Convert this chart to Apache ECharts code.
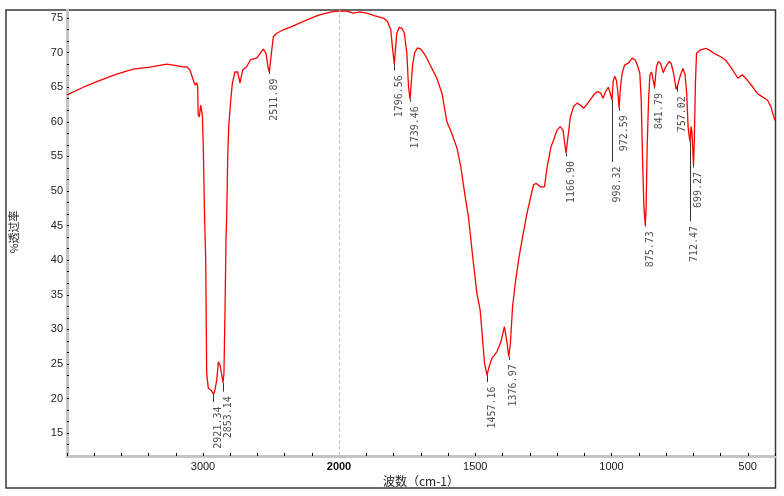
<!DOCTYPE html>
<html><head><meta charset="utf-8">
<script src="https://cdn.jsdelivr.net/npm/echarts@6/dist/echarts.min.js"></script>
<style>html,body{margin:0;padding:0;background:#fff}#c{width:784px;height:496px}</style>
</head><body><div id="c"></div>
<script>
// Spectrum (wavenumber cm-1, % transmittance)
const wavenumbers = [4000,3880,3757,3635,3512,3390,3267,3218,3145,3120,3096,3076,3059,3046,3039,3035,3027,3017,3005,2998,2988,2980,2973,2961,2943,2921,2912,2899,2887,2875,2862,2853,2846,2838,2831,2826,2818,2811,2796,2784,2765,2745,2728,2708,2679,2650,2605,2593,2557,2537,2520,2512,2500,2483,2458,2409,2348,2287,2226,2164,2115,2054,2000,1972,1947,1923,1898,1868,1837,1822,1810,1803,1797,1793,1788,1779,1769,1760,1751,1745,1739,1736,1730,1723,1712,1700,1684,1659,1641,1622,1604,1586,1567,1553,1537,1525,1508,1494,1482,1473,1466,1457,1449,1439,1420,1406,1393,1389,1383,1377,1371,1363,1353,1341,1328,1310,1298,1286,1276,1261,1246,1236,1222,1212,1200,1188,1178,1170,1167,1161,1151,1139,1126,1114,1102,1083,1065,1053,1040,1031,1022,1012,1006,998,994,988,982,977,972,967,961,952,936,924,912,903,896,891,886,881,876,873,869,864,859,853,847,842,835,828,820,810,801,789,781,771,763,757,749,738,730,724,719,716,712,708,705,701,699,696,692,688,673,654,642,624,599,581,563,544,536,520,501,483,465,446,428,415,403,400];
const transmittance = [63.9,65.0,66.0,66.9,67.6,67.9,68.35,68.2,67.95,67.95,67.5,66.3,65.3,65.65,65.0,61.0,60.7,62.4,61.0,56.6,45.8,40.0,23.65,21.5,21.25,20.6,21.25,22.7,25.3,24.85,23.4,22.3,23.65,32.8,42.9,46.3,55.0,59.3,63.15,65.6,67.2,67.2,65.6,67.5,67.95,69.0,69.2,69.4,70.5,69.9,67.7,67.2,69.4,72.3,72.8,73.3,73.75,74.3,74.8,75.3,75.6,75.9,76.0,76.0,75.7,75.9,75.7,75.3,75.0,74.5,73.3,70.4,68.35,70.4,72.8,73.65,73.5,72.8,69.9,65.1,63.25,65.1,68.2,69.9,70.7,70.5,69.65,67.7,66.3,64.1,60.0,58.3,56.2,53.5,49.2,46.3,40.0,35.2,32.8,28.5,25.1,23.4,24.6,25.8,26.8,28.2,30.4,30.6,28.0,26.05,28.0,33.3,36.7,40.0,43.0,46.8,48.9,50.9,51.1,50.6,50.6,53.5,56.4,57.4,58.8,59.3,58.8,56.4,55.45,57.4,60.7,62.2,62.7,62.4,61.95,62.9,63.9,64.35,64.2,63.4,64.35,65.0,64.35,63.15,65.8,66.6,66.0,64.35,61.95,65.1,67.0,68.2,68.55,69.2,68.9,67.95,67.0,63.15,54.5,47.7,45.0,47.7,56.4,63.15,66.8,67.2,66.0,65.0,68.0,68.7,68.45,67.1,67.95,68.7,68.45,66.8,64.7,65.3,66.5,67.7,66.8,64.1,59.3,58.3,57.1,59.3,58.6,55.45,53.75,57.4,65.6,69.9,70.4,70.6,70.4,69.9,69.4,68.9,67.95,66.8,66.3,66.8,66.0,65.1,64.1,63.6,63.15,62.2,60.5,60.2];

// Peak annotations
const peakWavenumbers = [2921.34,2853.14,2511.89,1796.56,1739.46,1457.16,1376.97,1166.90,998.32,972.59,875.73,841.79,757.02,712.47,699.27];
const peakLabels = ['2921.34','2853.14','2511.89','1796.56','1739.46','1457.16','1376.97','1166.90','998.32','972.59','875.73','841.79','757.02','712.47','699.27'];
const peakValues = [20.6,22.3,67.2,68.35,63.25,23.4,26.05,55.45,63.15,61.95,45.0,65.0,65.3,57.1,53.75];
const peakLineEnds = [19.5,21.0,66.9,67.4,62.9,22.4,25.6,55.0,54.2,61.6,44.85,64.8,64.35,45.6,53.4];

// Axis ticks / labels
const yTickLabels = [15,20,25,30,35,40,45,50,55,60,65,70,75];
const xTickLabelsLeft = [3000];
const xTickLabelsRight = [2000,1500,1000,500];
const breakWavenumber = 2000;

const Y_MIN = 11.7, Y_MAX = 76.16;
const yMinor = [];
yTickLabels.forEach(v => { yMinor.push(v); yMinor.push(v - 5/3); yMinor.push(v - 10/3); });

const pts = wavenumbers.map((w, i) => [w, transmittance[i]]);
const leftPts = pts.filter(p => p[0] >= breakWavenumber);
const rightPts = pts.filter(p => p[0] <= breakWavenumber);

const peaks = peakWavenumbers.map((w, i) => ({w, label: peakLabels[i], v: peakValues[i], e: peakLineEnds[i]}));
const leftPeaks = peaks.filter(p => p.w > breakWavenumber);
const rightPeaks = peaks.filter(p => p.w <= breakWavenumber);

const labelFont = 'Liberation Sans';
const axisColor = '#c4c4c4';

function tickLines(list) {
  return list.map(p => [{coord: [p.w, p.v]}, {coord: [p.w, p.e]}]);
}
function peakLabelSeries(list, idx) {
  return {
    type: 'scatter', xAxisIndex: idx, yAxisIndex: idx, symbolSize: 1, silent: true,
    itemStyle: {color: 'transparent'},
    data: list.map(p => [p.w, p.e, p.label]),
    label: {
      show: true, formatter: q => q.data[2], position: 'bottom', distance: 4,
      rotate: 90, align: 'right', verticalAlign: 'top',
      fontFamily: 'DejaVu Sans Mono', fontSize: 10, color: '#222'
    },
    z: 5
  };
}

const yAxisBase = {
  type: 'value', min: Y_MIN, max: Y_MAX, splitLine: {show: false}
};

const option = {
  animation: false,
  backgroundColor: '#fff',
  grid: [
    {left: 67, top: 10, width: 272, height: 446},
    {left: 339, top: 10, width: 436, height: 446}
  ],
  xAxis: [
    {
      gridIndex: 0, type: 'value', inverse: true, min: 2000, max: 4000, interval: 200,
      splitLine: {show: false},
      axisLine: {lineStyle: {color: axisColor, width: 3}},
      axisTick: {inside: true, length: 3, lineStyle: {color: '#000', width: 1}},
      axisLabel: {interval: 0, margin: 5, color: '#222', fontFamily: labelFont, fontSize: 11,
        formatter: v => xTickLabelsLeft.includes(v) ? String(v) : ''}
    },
    {
      gridIndex: 1, type: 'value', inverse: true, min: 400, max: 2000, interval: 100,
      splitLine: {show: false},
      axisLine: {lineStyle: {color: axisColor, width: 3}},
      axisTick: {inside: true, length: 3, lineStyle: {color: '#000', width: 1}},
      axisLabel: {interval: 0, margin: 5, color: '#222', fontFamily: labelFont, fontSize: 11,
        formatter: v => xTickLabelsRight.includes(v) ? (v === breakWavenumber ? '{b|' + v + '}' : String(v)) : '',
        rich: {b: {fontWeight: 'bold', fontFamily: labelFont, fontSize: 11, color: '#111'}}}
    }
  ],
  yAxis: [
    Object.assign({}, yAxisBase, {
      gridIndex: 0,
      axisLine: {show: true, lineStyle: {color: axisColor, width: 3}},
      axisTick: {show: true, inside: true, length: 2, customValues: yMinor, lineStyle: {color: '#000', width: 1}},
      axisLabel: {show: true, customValues: yTickLabels, margin: 4, color: '#222', fontFamily: labelFont, fontSize: 11}
    }),
    Object.assign({}, yAxisBase, {gridIndex: 1, show: false})
  ],
  series: [
    {
      type: 'line', xAxisIndex: 0, yAxisIndex: 0, data: leftPts, showSymbol: false, symbol: 'none',
      lineStyle: {color: '#ff0000', width: 1.3}, silent: true, z: 3,
      markLine: {silent: true, symbol: ['none', 'none'], label: {show: false},
        lineStyle: {color: '#333', width: 1, type: 'solid'}, data: tickLines(leftPeaks)}
    },
    {
      type: 'line', xAxisIndex: 1, yAxisIndex: 1, data: rightPts, showSymbol: false, symbol: 'none',
      lineStyle: {color: '#ff0000', width: 1.3}, silent: true, z: 3,
      markLine: {silent: true, symbol: ['none', 'none'], label: {show: false},
        lineStyle: {color: '#333', width: 1, type: 'solid'},
        data: [{xAxis: breakWavenumber, lineStyle: {type: 'dashed', color: '#c8c8c8', width: 1}}].concat(tickLines(rightPeaks))}
    },
    peakLabelSeries(leftPeaks, 0),
    peakLabelSeries(rightPeaks, 1)
  ],
  graphic: [
    {type: 'rect', z: -1, shape: {x: 6, y: 10, width: 769.5, height: 478}, style: {fill: 'none', stroke: '#3a3a3a', lineWidth: 1.5}},
    {type: 'text', x: 421, y: 481, style: {text: '波数（cm-1）', font: '12px "Noto Sans CJK SC"', fill: '#222', align: 'center', verticalAlign: 'middle'}},
    {type: 'text', x: 14, y: 232, rotation: Math.PI / 2, style: {text: '%透过率', font: '11px "Noto Sans CJK SC"', fill: '#222', align: 'center', verticalAlign: 'middle'}}
  ]
};
echarts.init(document.getElementById('c')).setOption(option);
</script>
</body></html>
